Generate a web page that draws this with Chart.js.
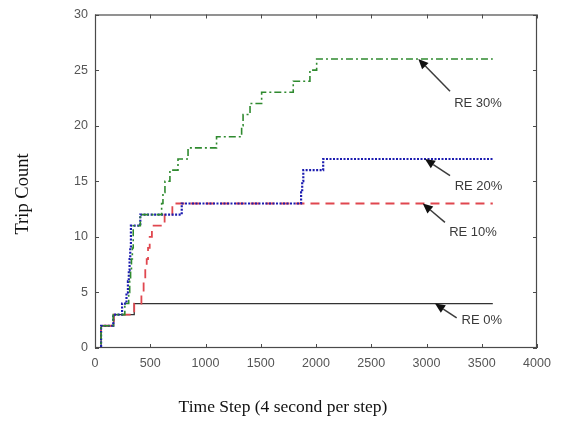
<!DOCTYPE html>
<html><head><meta charset="utf-8">
<script src="https://cdn.jsdelivr.net/npm/chart.js@4.4.1/dist/chart.umd.min.js"></script>
<style>html,body{margin:0;padding:0;background:#fff;}#wrap{width:563px;height:421px;}</style>
</head><body><div id="wrap"><canvas id="c" width="563" height="421"></canvas></div>
<script>
// ---- data ----
const xTickValues = [0, 500, 1000, 1500, 2000, 2500, 3000, 3500, 4000];
const yTickValues = [0, 5, 10, 15, 20, 25, 30];
const seriesLabels = ['RE 0%', 'RE 10%', 'RE 20%', 'RE 30%'];
const xTitle = 'Time Step (4 second per step)';
const yTitle = 'Trip Count';

const re0Times  = [0, 55, 170, 355, 3600];
const re0Counts = [0, 2, 3, 4, 4];

const re10Times  = [0, 55, 170, 355, 420, 440, 455, 468, 480, 495, 515, 630, 700, 3600];
const re10Counts = [0, 2, 3, 4, 5, 6, 7, 8, 9, 10, 11, 12, 13, 13];

const re20Times  = [0, 55, 165, 245, 285, 298, 306, 313, 319, 325, 410, 785, 1865, 1875, 1885, 2065, 3600];
const re20Counts = [0, 2, 3, 4, 5, 6, 7, 8, 9, 11, 12, 13, 14, 15, 16, 17, 17];

const re30Times  = [0, 55, 165, 270, 305, 314, 322, 330, 338, 346, 410, 603, 615, 633, 678, 751, 842, 1100, 1327, 1340, 1403, 1508, 1794, 1945, 2006, 3600];
const re30Counts = [0, 2, 3, 4, 5, 6, 7, 8, 9, 11, 12, 13, 14, 15, 16, 17, 18, 19, 20, 21, 22, 23, 24, 25, 26, 26];

function toPoints(times, counts) { return times.map((t, i) => ({x: t, y: counts[i]})); }

// annotation anchors, in data units (tip on curve, tail, label centre)
const annotationCfg = [
  {label: seriesLabels[3], tip: [2926, 26], tail: [3213, 23.1], text: [3466, 22.0]},
  {label: seriesLabels[2], tip: [2986, 17], tail: [3213, 15.5], text: [3471, 14.5]},
  {label: seriesLabels[1], tip: [2966, 13], tail: [3167, 11.3], text: [3421, 10.4]},
  {label: seriesLabels[0], tip: [3077, 4],  tail: [3273, 2.7],  text: [3500, 2.5]}
];

const decorPlugin = {
  id: 'decor',
  afterDraw(chart) {
    const ctx = chart.ctx, a = chart.chartArea;
    const xs = chart.scales.x, ys = chart.scales.y;
    ctx.save();
    // box
    ctx.strokeStyle = '#4a4a4a';
    ctx.lineWidth = 1.2;
    ctx.strokeRect(a.left + 0.5, a.top + 0.5, a.right - a.left - 1, a.bottom - a.top - 1);
    // inward ticks
    const tl = 4;
    ctx.lineWidth = 1;
    ctx.beginPath();
    xTickValues.forEach(v => {
      const px = Math.round(xs.getPixelForValue(v)) + 0.5;
      ctx.moveTo(px, a.bottom); ctx.lineTo(px, a.bottom - tl);
      ctx.moveTo(px, a.top); ctx.lineTo(px, a.top + tl);
    });
    yTickValues.forEach(v => {
      const py = Math.round(ys.getPixelForValue(v)) + 0.5;
      ctx.moveTo(a.left, py); ctx.lineTo(a.left + tl, py);
      ctx.moveTo(a.right, py); ctx.lineTo(a.right - tl, py);
    });
    ctx.stroke();
    // annotations
    annotationCfg.forEach(an => {
      const tx = xs.getPixelForValue(an.tip[0]), ty = ys.getPixelForValue(an.tip[1]);
      const sx = xs.getPixelForValue(an.tail[0]), sy = ys.getPixelForValue(an.tail[1]);
      const ang = Math.atan2(ty - sy, tx - sx);
      const hl = 10, hw = 4.5;
      const bx = tx - hl * Math.cos(ang), by = ty - hl * Math.sin(ang);
      ctx.strokeStyle = '#3c3c3c'; ctx.lineWidth = 1.5;
      ctx.beginPath(); ctx.moveTo(sx, sy); ctx.lineTo(bx, by); ctx.stroke();
      ctx.fillStyle = '#111';
      ctx.beginPath();
      ctx.moveTo(tx, ty);
      ctx.lineTo(bx + hw * Math.sin(ang), by - hw * Math.cos(ang));
      ctx.lineTo(bx - hw * Math.sin(ang), by + hw * Math.cos(ang));
      ctx.closePath(); ctx.fill();
      ctx.fillStyle = '#3a3a3a';
      ctx.font = '13px "Liberation Sans", Arial, sans-serif';
      ctx.textAlign = 'center'; ctx.textBaseline = 'middle';
      ctx.fillText(an.label, xs.getPixelForValue(an.text[0]), ys.getPixelForValue(an.text[1]));
    });
    // axis titles
    ctx.fillStyle = '#111';
    ctx.font = '17.5px "Liberation Serif", "Times New Roman", serif';
    ctx.textAlign = 'center'; ctx.textBaseline = 'middle';
    ctx.fillText(xTitle, 283, 407);
    ctx.save();
    ctx.translate(23, 194);
    ctx.rotate(-Math.PI / 2);
    ctx.font = '18.5px "Liberation Serif", "Times New Roman", serif';
    ctx.fillText(yTitle, 0, 0);
    ctx.restore();
    ctx.restore();
  }
};

const tickFont = {family: '"Liberation Sans", Arial, sans-serif', size: 12.5};

new Chart(document.getElementById('c'), {
  type: 'line',
  data: {
    datasets: [
      {label: seriesLabels[3], data: toPoints(re30Times, re30Counts), borderColor: '#2f8a2f', borderWidth: 1.6, borderDash: [7, 3, 2, 3]},
      {label: seriesLabels[2], data: toPoints(re20Times, re20Counts), borderColor: '#1c1cb0', borderWidth: 2.2, borderDash: [2, 1.5]},
      {label: seriesLabels[1], data: toPoints(re10Times, re10Counts), borderColor: '#e0474f', borderWidth: 1.8, borderDash: [9, 6]},
      {label: seriesLabels[0], data: toPoints(re0Times, re0Counts), borderColor: '#333333', borderWidth: 1.3}
    ].map(d => Object.assign(d, {stepped: true, pointRadius: 0, fill: false, tension: 0}))
  },
  options: {
    responsive: false,
    animation: false,
    devicePixelRatio: 1,
    layout: {padding: {top: 13, right: 26, left: 0, bottom: 0}},
    plugins: {legend: {display: false}, tooltip: {enabled: false}, title: {display: false}},
    scales: {
      x: {
        type: 'linear', min: 0, max: 4000,
        afterBuildTicks: s => { s.ticks = xTickValues.map(v => ({value: v})); },
        afterFit: s => { s.height = 73; },
        grid: {display: false, drawTicks: false},
        border: {display: false},
        ticks: {font: tickFont, color: '#555', padding: 8, maxRotation: 0, autoSkip: false, callback: v => String(v)}
      },
      y: {
        type: 'linear', min: 0, max: 30,
        afterBuildTicks: s => { s.ticks = yTickValues.map(v => ({value: v})); },
        afterFit: s => { s.width = 95; },
        grid: {display: false, drawTicks: false},
        border: {display: false},
        ticks: {font: tickFont, color: '#555', padding: 7, autoSkip: false, callback: v => String(v)}
      }
    }
  },
  plugins: [decorPlugin]
});
</script></body></html>
